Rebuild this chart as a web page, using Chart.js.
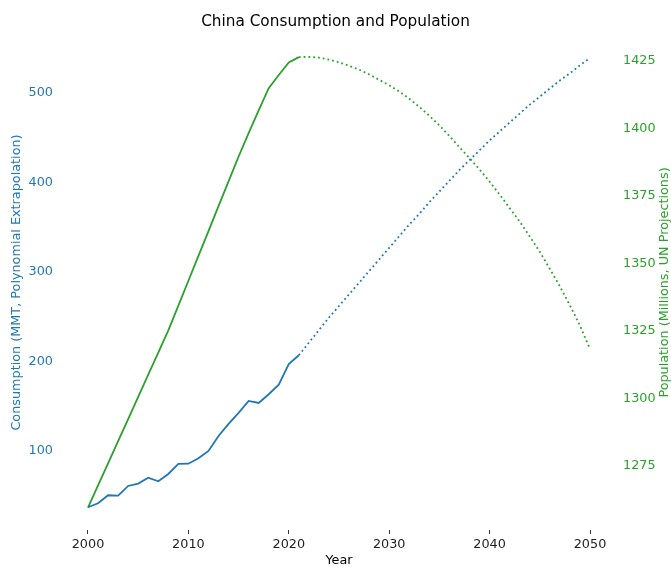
<!DOCTYPE html>
<html>
<head>
<meta charset="utf-8">
<title>China Consumption and Population</title>
<script src="https://cdn.jsdelivr.net/npm/chart.js@4"></script>
<style>
  body { margin: 0; background: #fff; }
</style>
</head>
<body>
<canvas id="chart" width="671" height="567"></canvas>
<script>
// historical years
const years = [2000, 2001, 2002, 2003, 2004, 2005, 2006, 2007, 2008, 2009, 2010,
               2011, 2012, 2013, 2014, 2015, 2016, 2017, 2018, 2019, 2020, 2021];
const consumption = [37.1, 41.6, 50.5, 50.1, 60.9, 63.5, 70.2, 66.1, 74.3, 85.5, 85.8,
                     91.8, 100.0, 116.8, 130.2, 142.5, 155.9, 153.6, 163.4, 174.1, 197.2, 206.9];
const population = [1259.6, 1267.8, 1276.0, 1284.2, 1292.4, 1300.6, 1308.8, 1317.0, 1325.2, 1334.4, 1343.6,
                    1352.8, 1362.0, 1371.2, 1380.4, 1389.6, 1398.3, 1406.7, 1414.9, 1419.8, 1424.4, 1426.4];

// projections
const projYears = [2021, 2022, 2023, 2024, 2025, 2026, 2027, 2028, 2029, 2030,
                   2031, 2032, 2033, 2034, 2035, 2036, 2037, 2038, 2039, 2040,
                   2041, 2042, 2043, 2044, 2045, 2046, 2047, 2048, 2049, 2050];
const consumptionProj = [206.9, 221, 235, 249, 262, 275, 288, 301, 314, 327,
                         340, 353, 365, 378, 390, 402, 414, 425, 436, 447,
                         457, 467, 477, 487, 496, 505, 514, 522, 531, 539];
const populationProj = [1426.4, 1426.5, 1426.2, 1425.5, 1424.5, 1423.2, 1421.8, 1420.0, 1418.0, 1416.0,
                        1413.7, 1411.0, 1408.0, 1404.7, 1401.1, 1397.2, 1393.0, 1389.0, 1384.8, 1380.3,
                        1375.5, 1370.5, 1365.5, 1360.0, 1354.3, 1348.0, 1341.5, 1334.5, 1327.0, 1318.3];

// tick labels
const xTicks = [2000, 2010, 2020, 2030, 2040, 2050];
const consTicks = [100, 200, 300, 400, 500];
const popTicks = [1275, 1300, 1325, 1350, 1375, 1400, 1425];

const blue = '#1f77b4';
const green = '#2ca02c';
const font = 'DejaVu Sans';
const fontSize = 12.8;
const popTitle = 'Population (Millions, UN Projections)';

function toPoints(xs, ys) {
    return xs.map((x, i) => ({ x: x, y: ys[i] }));
}

// right axis title reads bottom-to-top like the left one
const rightTitle = {
    id: 'rightTitle',
    afterDraw(chart) {
        const c = chart.ctx;
        const area = chart.chartArea;
        c.save();
        c.translate(665, (area.top + area.bottom) / 2);
        c.rotate(-Math.PI / 2);
        c.fillStyle = green;
        c.font = fontSize + 'px "' + font + '"';
        c.textAlign = 'center';
        c.textBaseline = 'middle';
        c.fillText(popTitle, 0, 0);
        c.restore();
    }
};

const ctx = document.getElementById('chart').getContext('2d');
const chart = new Chart(ctx, {
    type: 'line',
    data: {
        datasets: [
            {
                label: 'Consumption',
                data: toPoints(years, consumption),
                borderColor: blue,
                borderWidth: 1.8,
                yAxisID: 'yCons'
            },
            {
                label: 'Consumption (projected)',
                data: toPoints(projYears, consumptionProj),
                borderColor: blue,
                borderWidth: 1.8,
                borderDash: [1.8, 3],
                yAxisID: 'yCons'
            },
            {
                label: 'Population',
                data: toPoints(years, population),
                borderColor: green,
                borderWidth: 1.8,
                yAxisID: 'yPop'
            },
            {
                label: 'Population (projected)',
                data: toPoints(projYears, populationProj),
                borderColor: green,
                borderWidth: 1.8,
                borderDash: [1.8, 3],
                yAxisID: 'yPop'
            }
        ]
    },
    options: {
        responsive: false,
        animation: false,
        devicePixelRatio: 1,
        layout: { padding: 0 },
        elements: {
            point: { radius: 0 },
            line: { tension: 0, borderCapStyle: 'butt' }
        },
        plugins: {
            legend: { display: false },
            tooltip: { enabled: false },
            title: {
                display: true,
                text: 'China Consumption and Population',
                color: '#000',
                font: { family: font, size: 15.3, weight: 'normal' },
                padding: { top: 12.8, bottom: 3.84 }
            }
        },
        scales: {
            x: {
                type: 'linear',
                min: 1997.51,
                max: 2052.49,
                afterBuildTicks: (scale) => { scale.ticks = xTicks.map(v => ({ value: v })); },
                afterFit: (scale) => { scale.height = 37; },
                border: { display: false },
                grid: { drawOnChartArea: false, drawTicks: true, tickLength: 4, color: '#333' },
                ticks: {
                    color: '#222',
                    font: { family: font, size: fontSize },
                    padding: 3,
                    maxRotation: 0,
                    callback: (v) => String(v)
                },
                title: {
                    display: true,
                    text: 'Year',
                    color: '#000',
                    font: { family: font, size: fontSize, lineHeight: 1 },
                    padding: { top: 0, bottom: 0 }
                }
            },
            yCons: {
                type: 'linear',
                position: 'left',
                min: 11.7,
                max: 564.8,
                afterBuildTicks: (scale) => { scale.ticks = consTicks.map(v => ({ value: v })); },
                afterFit: (scale) => { scale.width = 63; },
                border: { display: false },
                grid: { display: false, drawTicks: false },
                ticks: {
                    color: blue,
                    font: { family: font, size: fontSize },
                    padding: 10,
                    callback: (v) => String(v)
                },
                title: {
                    display: true,
                    text: 'Consumption (MMT, Polynomial Extrapolation)',
                    color: blue,
                    font: { family: font, size: fontSize, lineHeight: 1 },
                    padding: { top: 10.6, bottom: 0 }
                }
            },
            yPop: {
                type: 'linear',
                position: 'right',
                min: 1251.3,
                max: 1434.6,
                afterBuildTicks: (scale) => { scale.ticks = popTicks.map(v => ({ value: v })); },
                afterFit: (scale) => { scale.width = 56; },
                border: { display: false },
                grid: { display: false, drawTicks: false },
                ticks: {
                    color: green,
                    font: { family: font, size: fontSize },
                    padding: 8,
                    callback: (v) => String(v)
                },
                title: { display: false, text: popTitle }
            }
        }
    },
    plugins: [rightTitle]
});
</script>
</body>
</html>
